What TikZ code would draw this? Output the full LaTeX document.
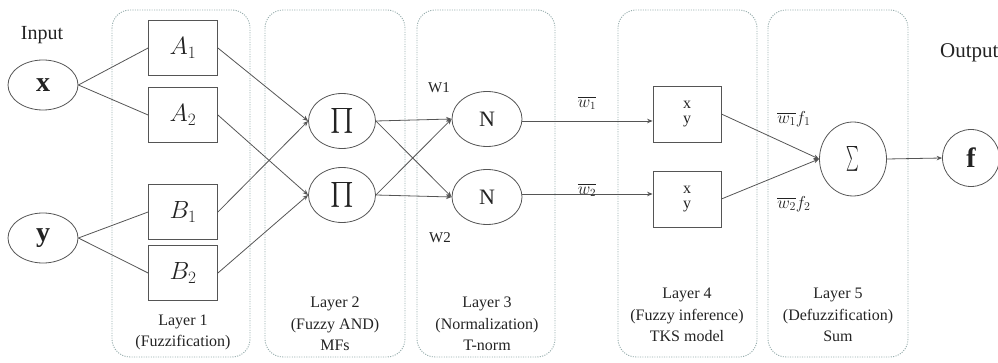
\documentclass[tikz,border=0pt]{standalone}
\usepackage{amsmath}
\usepackage{exscale}
\usepackage{fontspec}
\setmainfont{Liberation Serif}
\usetikzlibrary{arrows.meta,shapes.geometric}

\definecolor{linegray}{RGB}{85,85,85}
\definecolor{framegray}{RGB}{150,172,172}
\definecolor{inkgray}{RGB}{35,35,35}

\tikzset{
  edge/.style={draw=linegray, line width=0.8pt},
  arr/.style={edge, -{Stealth[length=5.5pt,width=4.5pt]}},
  layerframe/.style={draw=framegray, line width=0.9pt, dash pattern=on 1.1pt off 1.3pt, rounded corners=18pt},
  inputnode/.style={ellipse, draw=linegray, line width=0.8pt, minimum width=70pt, minimum height=50pt, inner sep=0pt, text=inkgray, font=\fontsize{28}{30}\selectfont\bfseries},
  mfbox/.style={rectangle, draw=linegray, line width=0.8pt, minimum width=69pt, minimum height=55pt, inner sep=0pt, text=inkgray, font=\fontsize{23}{26}\selectfont},
  rulenode/.style={ellipse, draw=linegray, line width=0.8pt, minimum width=67pt, minimum height=55pt, inner sep=0pt, text=inkgray},
  infbox/.style={rectangle, draw=linegray, line width=0.8pt, minimum width=68pt, minimum height=56pt, inner sep=0pt, text=inkgray, align=center, font=\fontsize{16}{15}\selectfont},
  layerlabel/.style={align=center, text=inkgray, font=\fontsize{16}{21.5}\selectfont},
  plainlabel/.style={text=inkgray, inner sep=0pt},
}

\begin{document}
\begin{tikzpicture}[x=1pt, y=-1pt]
\useasboundingbox (0,0) rectangle (998,363);
\clip (0,0) rectangle (998,363);

% layer frames
\draw[layerframe] (112,10) rectangle (250,357);
\draw[layerframe] (265,10) rectangle (405,357);
\draw[layerframe] (417,10) rectangle (555,357);
\draw[layerframe] (618,10) rectangle (757,357);
\draw[layerframe] (768,10) rectangle (908,357);

% inputs
\node[plainlabel, font=\fontsize{20}{22}\selectfont] (inlabel) at (42,35) {Input};
\node[inputnode] (x) at (43,85) {x};
\node[inputnode] (y) at (43,238) {y};

% layer 1: membership functions
\node[mfbox] (A1) at (183,48) {$A_1$};
\node[mfbox] (A2) at (183,115) {$A_2$};
\node[mfbox] (B1) at (183,212) {$B_1$};
\node[mfbox] (B2) at (183,273) {$B_2$};

% layer 2: product nodes
\node[rulenode, font=\fontsize{27}{29}\selectfont] (P1) at (342,121) {$\textstyle\prod$};
\node[rulenode, font=\fontsize{27}{29}\selectfont] (P2) at (342,195) {$\textstyle\prod$};

% layer 3: normalisation
\node[rulenode, minimum width=70pt, font=\fontsize{22}{24}\selectfont] (N1) at (487,119) {N};
\node[rulenode, minimum width=70pt, font=\fontsize{22}{24}\selectfont] (N2) at (487,197) {N};

% layer 4: consequent
\node[infbox] (C1) at (687,114) {x\\y};
\node[infbox] (C2) at (687,199) {x\\y};

% layer 5: sum
\node[rulenode, minimum width=67pt, minimum height=74pt, font=\fontsize{40}{42}\selectfont] (S) at (853,159) {\scalebox{0.48}[1]{$\textstyle\sum$}};

% output
\node[circle, draw=linegray, line width=0.8pt, minimum size=57pt, inner sep=0pt, text=inkgray, font=\fontsize{28}{30}\selectfont\bfseries] (f) at (971,158) {f};
\node[plainlabel, anchor=west, font=\fontsize{21}{23}\selectfont] (outlabel) at (940,53) {Output};

% connections: inputs to membership functions
\draw[edge] (x.east) -- (A1.west);
\draw[edge] (x.east) -- (A2.west);
\draw[edge] (y.east) -- (B1.west);
\draw[edge] (y.east) -- (B2.west);

% membership functions to product nodes
\draw[arr] (A1.east) -- (P1.west);
\draw[arr] (B1.east) -- (P1.west);
\draw[arr] (A2.east) -- (P2.west);
\draw[arr] (B2.east) -- (P2.west);

% product nodes to normalisation
\draw[arr] (P1.east) -- (N1.west);
\draw[arr] (P1.east) -- (N2.west);
\draw[arr] (P2.east) -- (N1.west);
\draw[arr] (P2.east) -- (N2.west);

% normalised weights to consequents
\draw[arr] ([yshift=-2pt]N1.east) -- ([yshift=-2pt]N1.east -| C1.west);
\draw[arr] ([yshift=3pt]N2.east) -- ([yshift=3pt]N2.east -| C2.west);

% consequents to sum
\draw[arr] (C1.east) -- (S.west);
\draw[arr] (C2.east) -- (S.west);

% sum to output
\draw[arr] (S.east) -- (f.west);

% edge labels
\node[plainlabel, font=\fontsize{15}{17}\selectfont] (w1) at (439,88) {W1};
\node[plainlabel, font=\fontsize{15}{17}\selectfont] (w2) at (440,238) {W2};
\node[plainlabel, font=\fontsize{16}{18}\selectfont] (nw1) at (587,103) {$\overline{w_1}$};
\node[plainlabel, font=\fontsize{16}{18}\selectfont] (nw2) at (587,190) {$\overline{w_2}$};
\node[plainlabel, font=\fontsize{17}{19}\selectfont] (wf1) at (794,119) {$\overline{w_1}f_1$};
\node[plainlabel, font=\fontsize{17}{19}\selectfont] (wf2) at (794,204) {$\overline{w_2}f_2$};

% layer captions
\node[layerlabel] (L1) at (183,332.5) {Layer 1\\(Fuzzification)};
\node[layerlabel] (L2) at (335,324) {Layer 2\\(Fuzzy AND)\\MFs};
\node[layerlabel] (L3) at (487,324) {Layer 3\\(Normalization)\\T-norm};
\node[layerlabel] (L4) at (687,315) {Layer 4\\(Fuzzy inference)\\TKS model};
\node[layerlabel] (L5) at (838,315) {Layer 5\\(Defuzzification)\\Sum};
\end{tikzpicture}
\end{document}
